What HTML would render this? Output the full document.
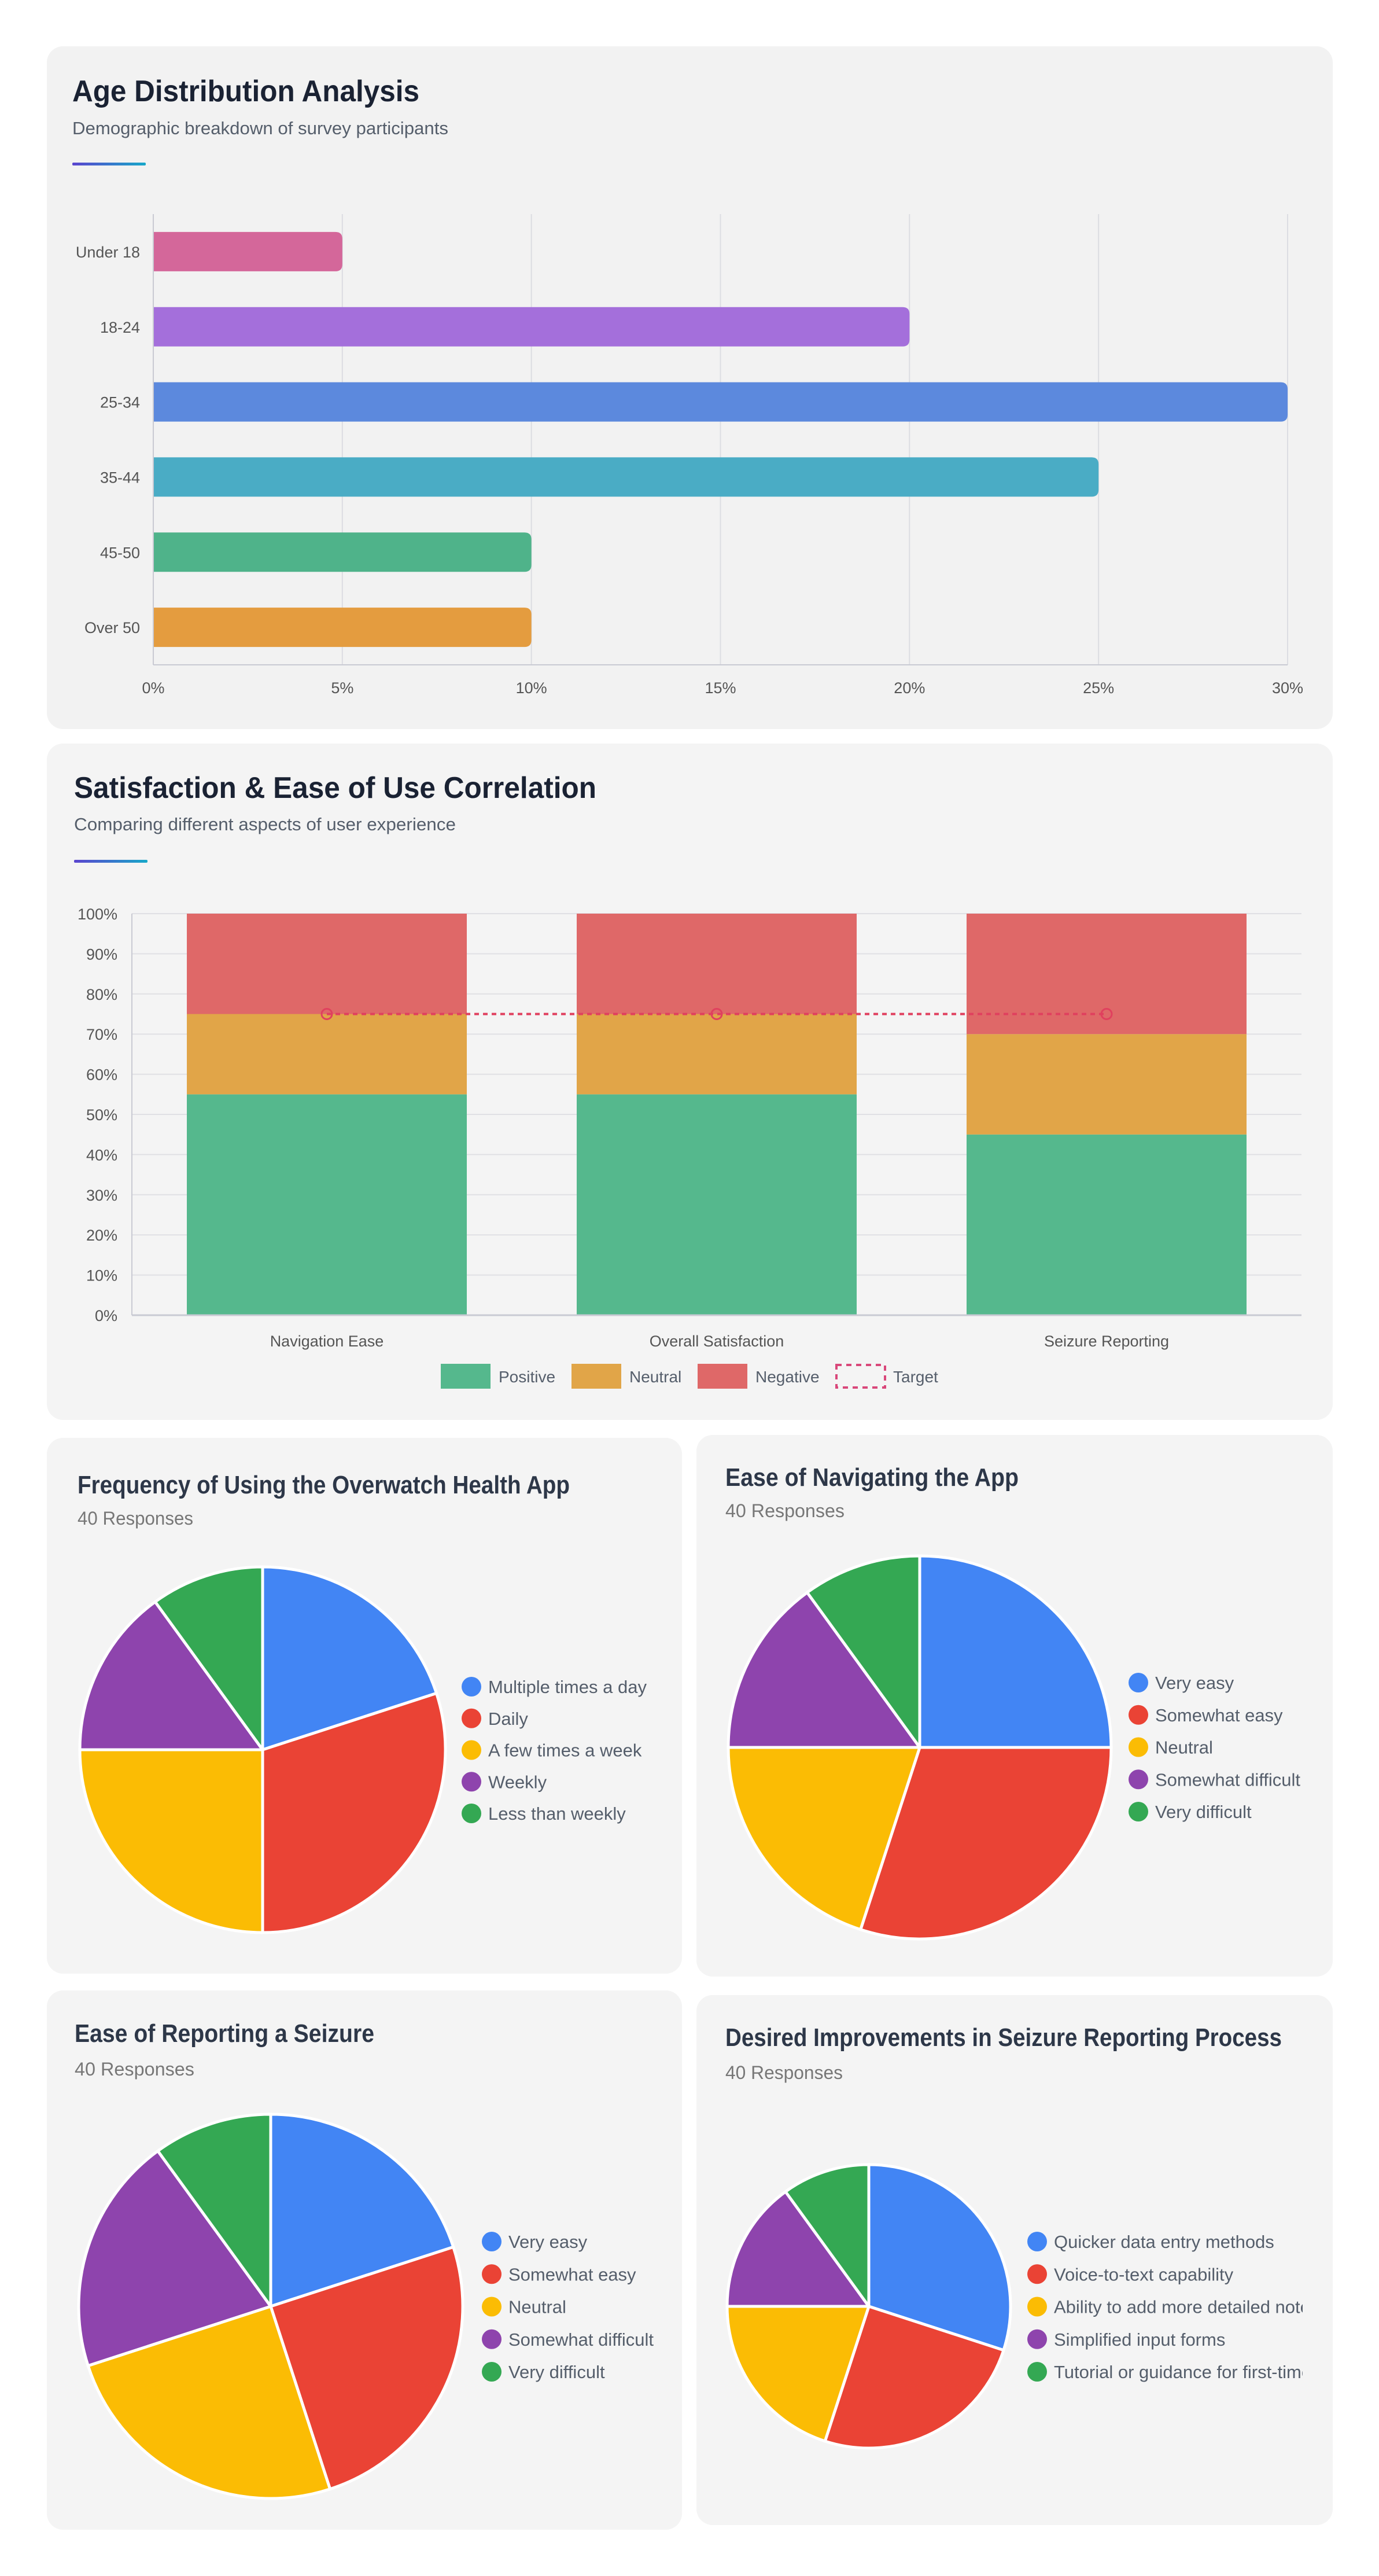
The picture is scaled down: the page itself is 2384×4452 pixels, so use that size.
<!DOCTYPE html>
<html><head><meta charset="utf-8"><style>
html,body{margin:0;padding:0;background:#fff;}
svg{display:block;font-family:"Liberation Sans",sans-serif;}
</style></head><body>
<svg id="root" width="2384" height="4452" viewBox="0 0 2384 4452" xmlns="http://www.w3.org/2000/svg">
<defs>
<linearGradient id="accent" x1="0" x2="1" y1="0" y2="0"><stop offset="0" stop-color="#5a44cf"/><stop offset="1" stop-color="#17a8c9"/></linearGradient>
<clipPath id="clip6"><rect x="1204" y="3448" width="1048" height="916"/></clipPath>
</defs>
<rect x="81" y="80" width="2223" height="1180" rx="28" fill="#f2f2f2"/>
<rect x="81" y="1285" width="2223" height="1169" rx="28" fill="#f4f4f4"/>
<rect x="81" y="2485" width="1098" height="926" rx="28" fill="#f4f4f4"/>
<rect x="1204" y="2480" width="1100" height="936" rx="28" fill="#f4f4f4"/>
<rect x="81" y="3440" width="1098" height="932" rx="28" fill="#f4f4f4"/>
<rect x="1204" y="3448" width="1100" height="916" rx="28" fill="#f4f4f4"/>

<text x="125" y="175" font-size="52" font-weight="bold" fill="#1a2233" textLength="600" lengthAdjust="spacingAndGlyphs">Age Distribution Analysis</text>
<text x="125" y="232" font-size="31" fill="#555e6b" textLength="650" lengthAdjust="spacingAndGlyphs">Demographic breakdown of survey participants</text>
<rect x="125" y="281" width="127" height="5" rx="2" fill="url(#accent)"/>

<text x="128" y="1379" font-size="52" font-weight="bold" fill="#1a2233" textLength="903" lengthAdjust="spacingAndGlyphs">Satisfaction &amp; Ease of Use Correlation</text>
<text x="128" y="1435" font-size="31" fill="#555e6b" textLength="660" lengthAdjust="spacingAndGlyphs">Comparing different aspects of user experience</text>
<rect x="128" y="1486" width="127" height="5" rx="2" fill="url(#accent)"/>

<text x="134" y="2581" font-size="44" font-weight="bold" fill="#2d3748" textLength="851" lengthAdjust="spacingAndGlyphs">Frequency of Using the Overwatch Health App</text>
<text x="134" y="2635" font-size="32" fill="#777" textLength="200" lengthAdjust="spacingAndGlyphs">40 Responses</text>
<text x="1254" y="2568" font-size="44" font-weight="bold" fill="#2d3748" textLength="507" lengthAdjust="spacingAndGlyphs">Ease of Navigating the App</text>
<text x="1254" y="2622" font-size="32" fill="#777" textLength="206" lengthAdjust="spacingAndGlyphs">40 Responses</text>
<text x="129" y="3529" font-size="44" font-weight="bold" fill="#2d3748" textLength="518" lengthAdjust="spacingAndGlyphs">Ease of Reporting a Seizure</text>
<text x="129" y="3587" font-size="32" fill="#777" textLength="207" lengthAdjust="spacingAndGlyphs">40 Responses</text>
<text x="1254" y="3536" font-size="44" font-weight="bold" fill="#2d3748" textLength="962" lengthAdjust="spacingAndGlyphs">Desired Improvements in Seizure Reporting Process</text>
<text x="1254" y="3593" font-size="32" fill="#777" textLength="203" lengthAdjust="spacingAndGlyphs">40 Responses</text>

<g id="g1"></g><g id="g2"></g><g id="g3"></g><g id="g4"></g><g id="g5"></g><g id="g6" clip-path="url(#clip6)"></g>
</svg>
<script>
// Chart 1 data
const ageCategories = ["Under 18","18-24","25-34","35-44","45-50","Over 50"];
const ageValues = [5,20,30,25,10,10];
const ageTicks = [0,5,10,15,20,25,30];
// Chart 2 data
const satCategories = ["Navigation Ease","Overall Satisfaction","Seizure Reporting"];
const satPositive = [55,55,45];
const satNeutral = [20,20,25];
const satNegative = [25,25,30];
const satTarget = [75,75,75];
const satTicks = [0,10,20,30,40,50,60,70,80,90,100];
// Pie data
const freqLabels = ["Multiple times a day","Daily","A few times a week","Weekly","Less than weekly"];
const freqValues = [8,12,10,6,4];
const navLabels = ["Very easy","Somewhat easy","Neutral","Somewhat difficult","Very difficult"];
const navValues = [10,12,8,6,4];
const repLabels = ["Very easy","Somewhat easy","Neutral","Somewhat difficult","Very difficult"];
const repValues = [8,10,10,8,4];
const impLabels = ["Quicker data entry methods","Voice-to-text capability","Ability to add more detailed notes","Simplified input forms","Tutorial or guidance for first-time users"];
const impValues = [12,10,8,6,4];

const NS = "http://www.w3.org/2000/svg";
function el(parent, tag, attrs, text){
  const e = document.createElementNS(NS, tag);
  for (const k in attrs) e.setAttribute(k, attrs[k]);
  if (text !== undefined) e.textContent = text;
  parent.appendChild(e);
  return e;
}

// ---- Chart 1: horizontal bars
(function(){
  const g = document.getElementById("g1");
  const x0 = 265, x1 = 2226, top = 370, bottom = 1149;
  const xMax = ageTicks[ageTicks.length-1];
  const xs = v => x0 + v / xMax * (x1 - x0);
  const band = (bottom - top) / ageCategories.length;
  const yc = i => top + band * (i + 0.5);
  const barH = 68;
  ageTicks.forEach(t => {
    const gl = el(g, "line", {x1: xs(t), x2: xs(t), y1: top, y2: bottom, stroke: "#dcdde2", "stroke-width": 2});
    
    
    const tl = el(g, "text", {x: xs(t), y: 1198, "font-size": 27, fill: "#555", "text-anchor": "middle"}, t + "%");
    
    
  });
  const colors = ["#d4679a","#a46fdb","#5c89dd","#4aacc5","#4fb38a","#e49c3f"];
  ageCategories.forEach((c, i) => {
    const w = xs(ageValues[i]) - x0, y = yc(i) - barH/2, r = 12;
    const d = `M${x0},${y} H${x0+w-r} Q${x0+w},${y} ${x0+w},${y+r} V${y+barH-r} Q${x0+w},${y+barH} ${x0+w-r},${y+barH} H${x0} Z`;
    const b = el(g, "path", {d: d, fill: colors[i]});
    
    
    const l = el(g, "text", {x: 242, y: yc(i) + 10, "font-size": 27, fill: "#555", "text-anchor": "end"}, c);
    
    
  });
  const ax = el(g, "line", {x1: x0, x2: x1, y1: bottom, y2: bottom, stroke: "#c9cad3", "stroke-width": 2});
  
  
  const ay = el(g, "line", {x1: x0, x2: x0, y1: top, y2: bottom, stroke: "#c9cad3", "stroke-width": 2});
  
  
})();

// ---- Chart 2: stacked bars
(function(){
  const g = document.getElementById("g2");
  const x0 = 228, x1 = 2250, y0 = 2273, y1 = 1579;
  const ys = v => y0 - v / 100 * (y0 - y1);
  const band = (x1 - x0) / satCategories.length;
  const xc = i => x0 + band * (i + 0.5);
  const bw = 484;
  satTicks.forEach(t => {
    const gl = el(g, "line", {x1: x0, x2: x1, y1: ys(t), y2: ys(t), stroke: "#e0e0e4", "stroke-width": 2});
    
    
    const tl = el(g, "text", {x: 203, y: ys(t) + 10, "font-size": 27, fill: "#555", "text-anchor": "end"}, t + "%");
    
    
  });
  satCategories.forEach((c, i) => {
    const left = xc(i) - bw/2;
    const p = el(g, "rect", {x: left, y: ys(satPositive[i]), width: bw, height: ys(0) - ys(satPositive[i]), fill: "#55b88d"});
    
    
    const n = el(g, "rect", {x: left, y: ys(satPositive[i] + satNeutral[i]), width: bw, height: ys(satPositive[i]) - ys(satPositive[i] + satNeutral[i]), fill: "#e1a548"});
    
    
    const s = satPositive[i] + satNeutral[i];
    const ng = el(g, "rect", {x: left, y: ys(s + satNegative[i]), width: bw, height: ys(s) - ys(s + satNegative[i]), fill: "#df6868"});
    
    
    const l = el(g, "text", {x: xc(i), y: 2327, "font-size": 27, fill: "#555", "text-anchor": "middle"}, c);
    
    
  });
  const ax = el(g, "line", {x1: x0, x2: x1, y1: y0, y2: y0, stroke: "#c9cad3", "stroke-width": 3});
  
  
  const ay = el(g, "line", {x1: x0, x2: x0, y1: y1, y2: y0, stroke: "#c9cad3", "stroke-width": 2});
  
  
  const pts = satTarget.map((v, i) => xc(i) + "," + ys(v)).join(" ");
  const tl = el(g, "polyline", {points: pts, fill: "none", stroke: "#e0405e", "stroke-width": 4, "stroke-dasharray": "8 7"});
  
  
  satTarget.forEach((v, i) => {
    const c = el(g, "circle", {cx: xc(i), cy: ys(v), r: 9, fill: "none", stroke: "#e0405e", "stroke-width": 3});
    
    
  });
  const leg = [["Positive","#55b88d",762,"solid"],["Neutral","#e1a548",988,"solid"],["Negative","#df6868",1206,"solid"],["Target","#d9477a",1444,"dash"]];
  leg.forEach(L => {
    let sw;
    if (L[3] === "solid") sw = el(g, "rect", {x: L[2], y: 2357, width: 86, height: 43, fill: L[1]});
    else sw = el(g, "rect", {x: L[2]+2, y: 2359, width: 84, height: 39, fill: "none", stroke: L[1], "stroke-width": 4, "stroke-dasharray": "9 8"});
    
    
    const t = el(g, "text", {x: L[2] + 100, y: 2389, "font-size": 28, fill: "#555e6b"}, L[0]);
    
    
  });
})();

// ---- Pies
const pieColors = ["#4285f4","#ea4335","#fbbc04","#8e44ad","#34a853"];
function drawPie(gid, cx, cy, r, values, labels, lx, ly0, lstep){
  const g = document.getElementById(gid);
  const total = values.reduce((a, b) => a + b, 0);
  let a0 = -Math.PI / 2;
  values.forEach((v, i) => {
    const a1 = a0 + v / total * Math.PI * 2;
    const large = (a1 - a0) > Math.PI ? 1 : 0;
    const d = `M${cx},${cy} L${cx + r*Math.cos(a0)},${cy + r*Math.sin(a0)} A${r},${r} 0 ${large} 1 ${cx + r*Math.cos(a1)},${cy + r*Math.sin(a1)} Z`;
    const s = el(g, "path", {d: d, fill: pieColors[i], stroke: "#fff", "stroke-width": 5, "stroke-linejoin": "round"});
    
    
    a0 = a1;
  });
  labels.forEach((lab, i) => {
    const y = ly0 + lstep * i;
    const dot = el(g, "circle", {cx: lx, cy: y, r: 17, fill: pieColors[i]});
    
    
    const t = el(g, "text", {x: lx + 29, y: y + 11, "font-size": 31, fill: "#555e6b"}, lab);
    
    
  });
}
drawPie("g3", 454, 3024, 316, freqValues, freqLabels, 815, 2915, 54.75);
drawPie("g4", 1590, 3020, 331, navValues, navLabels, 1968, 2908, 55.75);
drawPie("g5", 468, 3986, 332, repValues, repLabels, 850, 3874, 56.25);
drawPie("g6", 1502, 3986, 245, impValues, impLabels, 1793, 3874, 56.25);
</script>
</body></html>
